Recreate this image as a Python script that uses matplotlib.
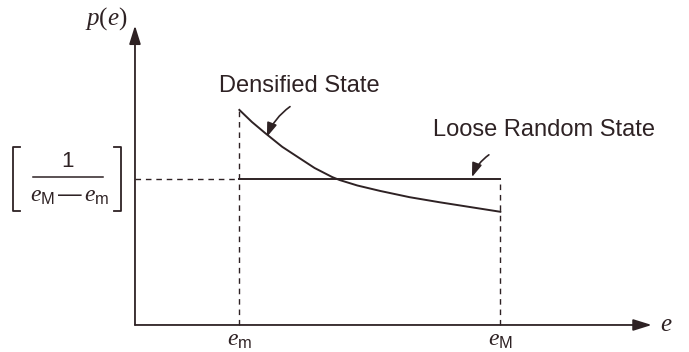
import matplotlib
matplotlib.use('Agg')
from matplotlib import pyplot as plt
import numpy as np

plt.rcParams['font.family'] = ['Liberation Sans', 'DejaVu Sans']
plt.rcParams['mathtext.fontset'] = 'custom'
plt.rcParams['mathtext.it'] = 'Liberation Serif:italic'
plt.rcParams['mathtext.rm'] = 'Liberation Serif'
plt.rcParams['mathtext.sf'] = 'Liberation Sans'

# nilai batas angka pori
e_min = 1.0
e_max = 3.5
p_uniform = 1.0 / (e_max - e_min)

# kurva keadaan padat
e_dense = [1.0, 1.12, 1.245, 1.41, 1.57, 1.72, 1.89, 1.96, 2.13, 2.35, 2.63, 2.92, 3.21, 3.5]
p_dense = [0.589, 0.556, 0.526, 0.488, 0.458, 0.430, 0.405, 0.397, 0.382, 0.367, 0.350, 0.336, 0.323, 0.310]

warna = '#2e2224'

fig = plt.figure(figsize=(6.89, 3.52), dpi=100)
ax = fig.add_axes([0, 0, 1, 1])
ax.set_xlim(-1.293, 5.307)
ax.set_ylim(-0.074, 0.890)
ax.axis('off')

# sumbu dengan panah
ax.annotate('', xy=(4.95, 0), xytext=(0, 0),
            arrowprops=dict(arrowstyle='-|>,head_length=0.8,head_width=0.25', color=warna, lw=1.3,
                            mutation_scale=14, shrinkA=0, shrinkB=0))
ax.annotate('', xy=(0, 0.82), xytext=(0, 0),
            arrowprops=dict(arrowstyle='-|>,head_length=0.8,head_width=0.25', color=warna, lw=1.3,
                            mutation_scale=14, shrinkA=0, shrinkB=0))

# garis putus-putus
ax.plot([e_min, e_min], [0, p_dense[0]], color=warna, lw=1.0, dashes=(4, 3.5))
ax.plot([e_max, e_max], [0, p_uniform], color=warna, lw=1.0, dashes=(4, 3.5))
ax.plot([0, e_min], [p_uniform, p_uniform], color=warna, lw=1.0, dashes=(4, 3.5))

# keadaan acak lepas (seragam)
ax.plot([e_min, e_max], [p_uniform, p_uniform], color=warna, lw=1.4)

# keadaan padat
ax.plot(e_dense, p_dense, color=warna, lw=1.4, solid_joinstyle='round')

# label sumbu
ax.text(-0.07, 0.84, r'$p(e)$', fontsize=18, ha='right', va='center', color=warna)
ax.text(5.03, 0.003, r'$e$', fontsize=18, ha='left', va='center', color=warna)
ax.text(e_min, -0.04, r'$e_{\mathsf{m}}$', fontsize=17, ha='center', va='center', color=warna)
ax.text(e_max, -0.04, r'$e_{\mathsf{M}}$', fontsize=17, ha='center', va='center', color=warna)

# label 1/(eM - em) dalam kurung siku
ax.text(-0.642, 0.449, '1', fontsize=16, ha='center', va='center', color=warna)
ax.plot([-0.977, -0.307], [0.405, 0.405], color=warna, lw=1.1)
ax.text(-0.625, 0.353, r'$e_{\mathsf{M}}\,$—$\,e_{\mathsf{m}}$', fontsize=17,
        ha='center', va='center', color=warna)
ax.plot([-1.102, -1.169, -1.169, -1.102], [0.487, 0.487, 0.313, 0.313], color=warna, lw=1.3)
ax.plot([-0.201, -0.134, -0.134, -0.201], [0.487, 0.487, 0.313, 0.313], color=warna, lw=1.3)

# keterangan
ax.text(1.57, 0.655, 'Densified State', fontsize=17, ha='center', va='center', color=warna)
ax.text(3.92, 0.535, 'Loose Random State', fontsize=17, ha='center', va='center', color=warna)

ax.annotate('', xy=(1.264, 0.515), xytext=(1.485, 0.598),
            arrowprops=dict(arrowstyle='-|>,head_length=0.7,head_width=0.25', color=warna, lw=1.2,
                            mutation_scale=12, connectionstyle='arc3,rad=0.15', shrinkA=0, shrinkB=0))
ax.annotate('', xy=(3.228, 0.405), xytext=(3.39, 0.466),
            arrowprops=dict(arrowstyle='-|>,head_length=0.7,head_width=0.25', color=warna, lw=1.2,
                            mutation_scale=12, connectionstyle='arc3,rad=0.15', shrinkA=0, shrinkB=0))

plt.savefig('out.png', dpi=100)
